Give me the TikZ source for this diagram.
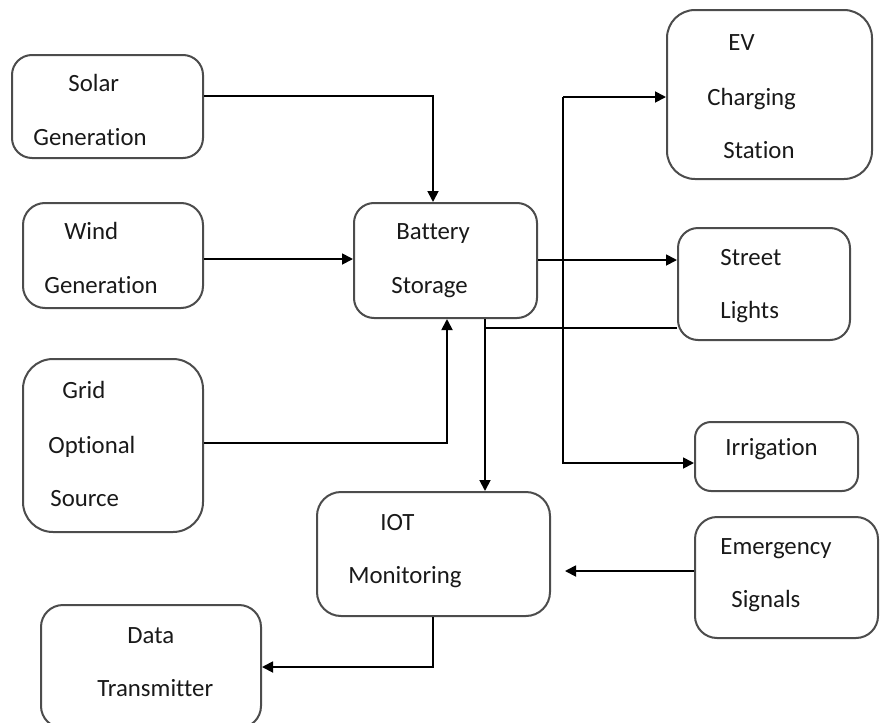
\documentclass[tikz,border=0pt]{standalone}
\usepackage{fontspec}
\setmainfont{Carlito}[Ligatures={NoCommon}]
\usetikzlibrary{arrows.meta}

\begin{document}
\begin{tikzpicture}[x=0.5pt,y=-0.5pt,
  box/.style={draw=black!70,line width=1pt,rectangle,inner sep=0pt},
  txt/.style={anchor=base west,inner sep=0pt,text=black!90,font=\fontsize{12.4}{14}\selectfont},
  arr/.style={line width=0.9pt,-{Triangle[length=5.5pt,width=5.5pt]}}]
\useasboundingbox (0,0) rectangle (880,723);
% boxes
\node[box,rounded corners=10pt,minimum width=95.5pt,minimum height=51.5pt] (solar) at (107.5,106.5) {};
\node[box,rounded corners=11pt,minimum width=90pt,minimum height=52.5pt] (wind) at (113,255.5) {};
\node[box,rounded corners=15pt,minimum width=90pt,minimum height=86.5pt] (grid) at (113,445.5) {};
\node[box,rounded corners=10pt,minimum width=91.5pt,minimum height=57.5pt] (battery) at (445.5,260.5) {};
\node[box,rounded corners=14pt,minimum width=102.5pt,minimum height=84.5pt] (ev) at (769.5,94.5) {};
\node[box,rounded corners=10pt,minimum width=86pt,minimum height=56pt] (street) at (764,284) {};
\node[box,rounded corners=8pt,minimum width=81.5pt,minimum height=34.5pt] (irrigation) at (776.5,456.5) {};
\node[box,rounded corners=12pt,minimum width=116.5pt,minimum height=62pt] (iot) at (433.5,554) {};
\node[box,rounded corners=11pt,minimum width=91.5pt,minimum height=60.5pt] (emergency) at (786.5,577.5) {};
\node[box,rounded corners=11pt,minimum width=110pt,minimum height=61.5pt] (data) at (151,666.5) {};
% labels
\node[txt] (solar-1) at (68,91) {Solar};
\node[txt] (solar-2) at (33,145) {Generation};
\node[txt] (wind-1) at (64,239) {Wind};
\node[txt] (wind-2) at (44,293) {Generation};
\node[txt] (grid-1) at (62,398) {Grid};
\node[txt] (grid-2) at (48,453) {Optional};
\node[txt] (grid-3) at (50,506) {Source};
\node[txt] (battery-1) at (396,239) {Battery};
\node[txt] (battery-2) at (391,293) {Storage};
\node[txt] (ev-1) at (728,50) {EV};
\node[txt] (ev-2) at (707,105) {Charging};
\node[txt] (ev-3) at (723,158) {Station};
\node[txt] (street-1) at (720,265) {Street};
\node[txt] (street-2) at (720,318) {Lights};
\node[txt] (irrigation-1) at (725,455) {Irrigation};
\node[txt] (iot-1) at (380,530) {IOT};
\node[txt] (iot-2) at (348,583) {Monitoring};
\node[txt] (emergency-1) at (720,554) {Emergency};
\node[txt] (emergency-2) at (731,607) {Signals};
\node[txt] (data-1) at (127,643) {Data};
\node[txt] (data-2) at (97,696) {Transmitter};
% connectors
\coordinate (bus-top) at (563,97);
\coordinate (tap) at (485,328);
\draw[arr] (solar.east |- 0,96) -| (battery.north -| 433,0);
\draw[arr] (wind.east |- 0,259) -- (battery.west |- 0,259);
\draw[arr] (grid.east |- 0,443) -| (battery.south -| 447,0);
\draw[arr] (battery.east |- 0,260) -- (street.west |- 0,260);
\draw[arr] (bus-top) -- (ev.west |- bus-top);
\draw[arr] (bus-top) |- (irrigation.west |- 0,463);
\draw[arr] (battery.south -| tap) -- (iot.north -| tap);
\draw[line width=0.9pt] (street.west |- tap) -- (tap);
\draw[arr,shorten >=7pt] (emergency.west |- 0,571) -- (iot.east |- 0,571);
\draw[arr] (iot.south -| 433,0) |- (data.east |- 0,667);
\end{tikzpicture}
\end{document}
